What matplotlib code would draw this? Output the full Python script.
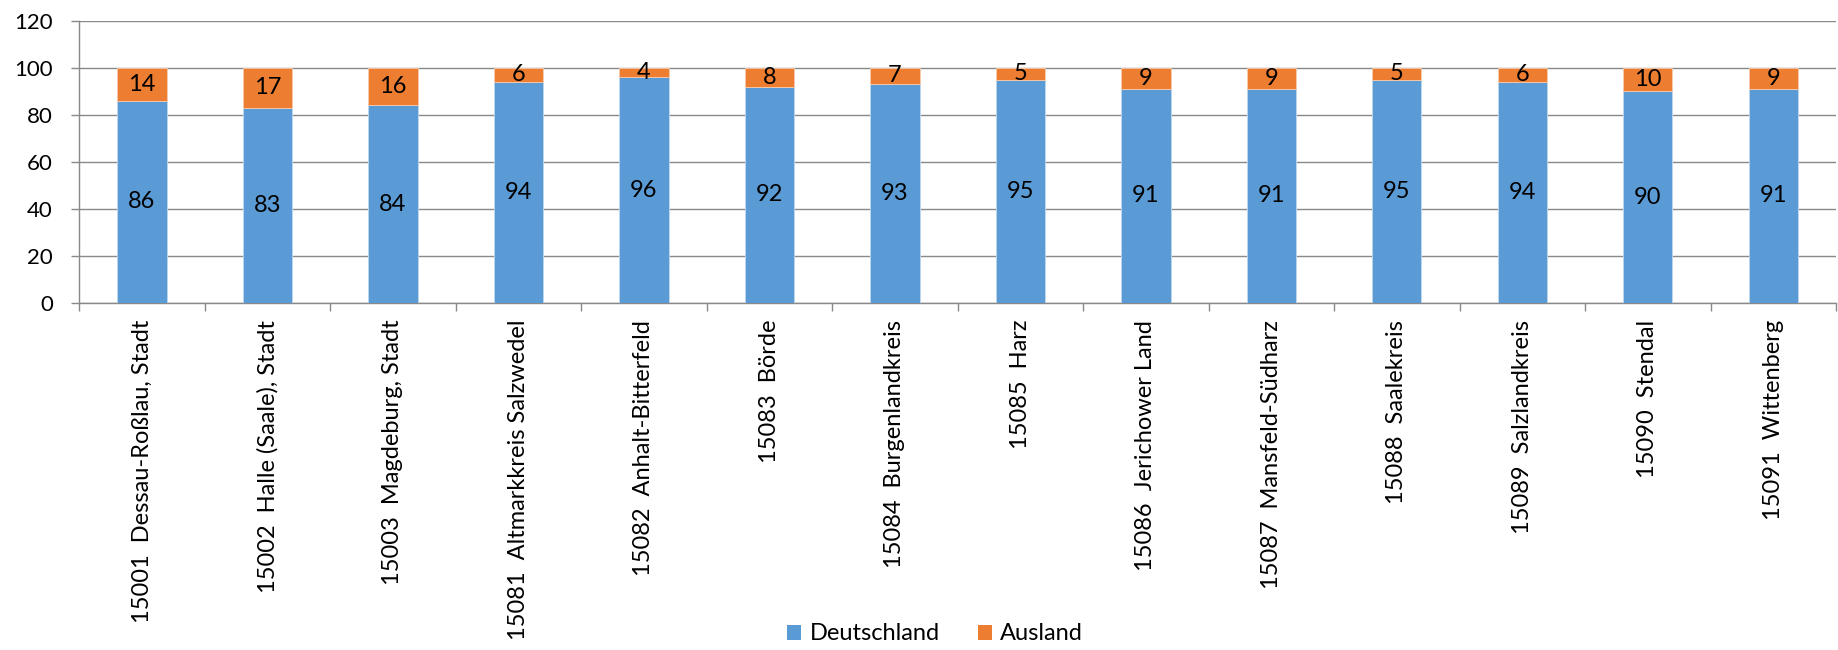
import matplotlib
matplotlib.use("Agg")
import matplotlib.pyplot as plt
import numpy as np
from matplotlib.patches import Patch

categories = [
    "15001  Dessau-Roßlau, Stadt",
    "15002  Halle (Saale), Stadt",
    "15003  Magdeburg, Stadt",
    "15081  Altmarkkreis Salzwedel",
    "15082  Anhalt-Bitterfeld",
    "15083  Börde",
    "15084  Burgenlandkreis",
    "15085  Harz",
    "15086  Jerichower Land",
    "15087  Mansfeld-Südharz",
    "15088  Saalekreis",
    "15089  Salzlandkreis",
    "15090  Stendal",
    "15091  Wittenberg",
]
deutschland = [86, 83, 84, 94, 96, 92, 93, 95, 91, 91, 95, 94, 90, 91]
ausland = [14, 17, 16, 6, 4, 8, 7, 5, 9, 9, 5, 6, 10, 9]
yticks = [0, 20, 40, 60, 80, 100, 120]

BLUE = "#5B9BD5"
ORANGE = "#ED7D31"
GRID = "#898989"
FONT = "Lato"
FS = 17

plt.rcParams["font.family"] = [FONT, "DejaVu Sans"]

W, H = 1838, 650
left, right, top, bottom = 79.3, 1836, 20.7, 303
fig = plt.figure(figsize=(W / 100, H / 100), dpi=100)
ax = fig.add_axes([left / W, 1 - bottom / H, (right - left) / W, (bottom - top) / H])

x = np.arange(len(categories))
w = 0.393
ax.bar(x, deutschland, width=w, color=BLUE, edgecolor="#BDD7EE", linewidth=0.6, zorder=3)
ax.bar(x, ausland, width=w, bottom=deutschland, color=ORANGE, edgecolor="#F8CBAD", linewidth=0.6, zorder=3)

for xi, d, a in zip(x, deutschland, ausland):
    ax.text(xi, d / 2, str(d), ha="center", va="center", fontsize=FS, color="black", zorder=4)
    ax.text(xi, d + a / 2, str(a), ha="center", va="center", fontsize=FS, color="black", zorder=4)

ax.set_xlim(-0.5, len(categories) - 0.5)
ax.set_ylim(0, 120)
ax.set_yticks(yticks)
ax.yaxis.grid(True, color=GRID, linewidth=1.0, zorder=0)
ax.tick_params(axis="y", length=6, width=1.0, color=GRID, labelsize=FS - 1, pad=13)

# category boundaries as major ticks, labels at centers as minor ticks
ax.set_xticks(np.arange(len(categories) + 1) - 0.5)
ax.set_xticklabels([])
ax.set_xticks(x, minor=True)
ax.set_xticklabels(categories, minor=True, rotation=90, ha="center", va="top", fontsize=FS)
ax.tick_params(axis="x", which="major", length=6, width=1.0, color=GRID)
ax.tick_params(axis="x", which="minor", length=0, pad=12)

for s in ["top", "right"]:
    ax.spines[s].set_visible(False)
for s in ["left", "bottom"]:
    ax.spines[s].set_color(GRID)
    ax.spines[s].set_linewidth(1.0)

handles = [Patch(facecolor=BLUE, label="Deutschland"), Patch(facecolor=ORANGE, label="Ausland")]
fig.legend(handles=handles, loc="center", bbox_to_anchor=(935 / W, 1 - 634 / H),
           ncol=2, frameon=False, fontsize=FS, handlelength=0.6, handleheight=0.6,
           handletextpad=0.35, columnspacing=1.6)

fig.savefig("out.png", dpi=100)
